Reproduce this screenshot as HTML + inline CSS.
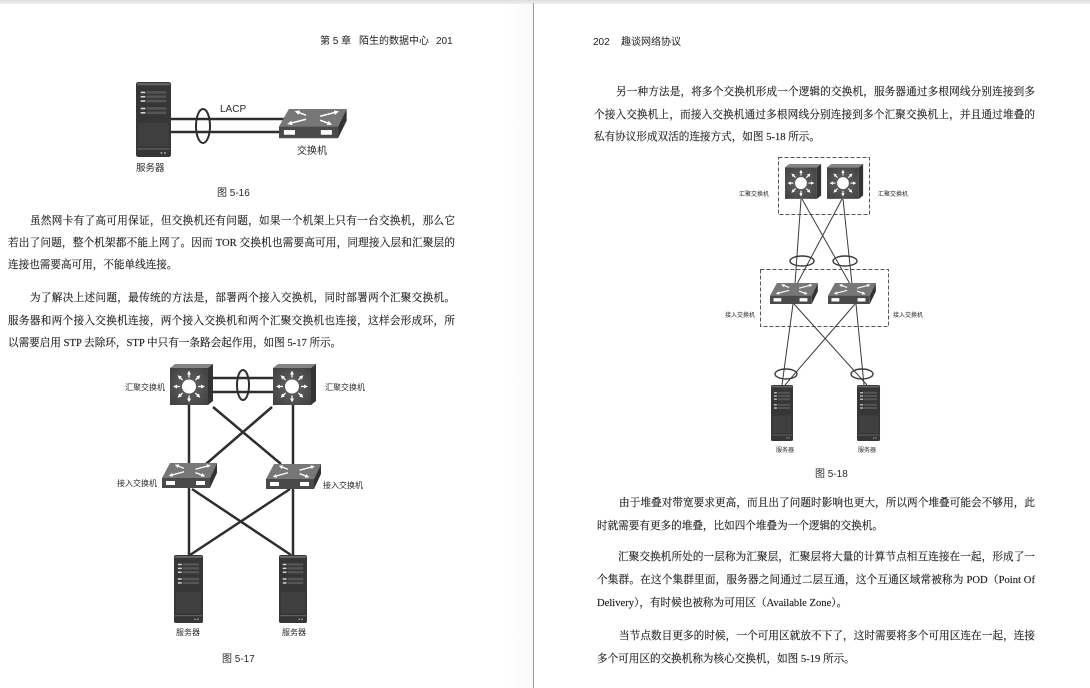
<!DOCTYPE html>
<html lang="zh">
<head>
<meta charset="utf-8">
<style>
  html,body{margin:0;padding:0;}
  body{width:1090px;height:688px;position:relative;overflow:hidden;background:#fff;}
  .strip{position:absolute;left:0;top:0;width:1090px;height:4px;background:linear-gradient(#dcdcdc,#f2f2f2);}
  .div{position:absolute;left:533px;top:3px;width:1px;height:685px;background:#9a9a9a;}
  .shade{position:absolute;left:505px;top:4px;width:28px;height:684px;background:linear-gradient(90deg,rgba(0,0,0,0),rgba(0,0,0,0.025));}
  .h{position:absolute;font-family:"Liberation Sans","Noto Sans CJK SC",sans-serif;font-size:10px;line-height:12px;color:#222;white-space:nowrap;}
  .t{position:absolute;font-family:"Liberation Serif","Noto Serif CJK SC",serif;font-size:10.6px;line-height:14px;color:#1e1e1e;-webkit-text-stroke:0.15px #1e1e1e;}
  .j{text-align:justify;text-align-last:justify;}
  svg{position:absolute;left:0;top:0;}
  svg text{font-family:"Liberation Sans","Noto Sans CJK SC",sans-serif;fill:#2a2a2a;}
</style>
</head>
<body>
<div class="strip"></div>
<div class="shade"></div>
<div class="div"></div>

<!-- headers -->
<div class="h" style="left:320px;top:36px;">第 5 章</div>
<div class="h" style="left:359px;top:36px;">陌生的数据中心</div>
<div class="h" style="left:436px;top:36px;">201</div>
<div class="h" style="left:593px;top:37px;">202</div>
<div class="h" style="left:621px;top:37px;">趣谈网络协议</div>

<!-- left page text -->
<div class="t j" style="left:30px;top:215px;width:425px;">虽然网卡有了高可用保证，但交换机还有问题，如果一个机架上只有一台交换机，那么它</div>
<div class="t j" style="left:8px;top:237px;width:447px;">若出了问题，整个机架都不能上网了。因而 TOR 交换机也需要高可用，同理接入层和汇聚层的</div>
<div class="t" style="left:8px;top:259px;">连接也需要高可用，不能单线连接。</div>

<div class="t j" style="left:30px;top:292px;width:425px;">为了解决上述问题，最传统的方法是，部署两个接入交换机，同时部署两个汇聚交换机。</div>
<div class="t j" style="left:8px;top:315px;width:447px;">服务器和两个接入交换机连接，两个接入交换机和两个汇聚交换机也连接，这样会形成环，所</div>
<div class="t" style="left:8px;top:337px;">以需要启用 STP 去除环，STP 中只有一条路会起作用，如图 5-17 所示。</div>

<!-- right page text -->
<div class="t j" style="left:616px;top:86px;width:419px;">另一种方法是，将多个交换机形成一个逻辑的交换机，服务器通过多根网线分别连接到多</div>
<div class="t j" style="left:594px;top:109px;width:441px;">个接入交换机上，而接入交换机通过多根网线分别连接到多个汇聚交换机上，并且通过堆叠的</div>
<div class="t" style="left:594px;top:131px;">私有协议形成双活的连接方式，如图 5-18 所示。</div>

<div class="t j" style="left:619px;top:497px;width:416px;">由于堆叠对带宽要求更高，而且出了问题时影响也更大，所以两个堆叠可能会不够用，此</div>
<div class="t" style="left:597px;top:520px;">时就需要有更多的堆叠，比如四个堆叠为一个逻辑的交换机。</div>

<div class="t j" style="left:618px;top:551px;width:417px;">汇聚交换机所处的一层称为汇聚层，汇聚层将大量的计算节点相互连接在一起，形成了一</div>
<div class="t j" style="left:597px;top:574px;width:438px;">个集群。在这个集群里面，服务器之间通过二层互通，这个互通区域常被称为 POD（Point Of</div>
<div class="t" style="left:597px;top:597px;">Delivery），有时候也被称为可用区（Available Zone）。</div>

<div class="t j" style="left:619px;top:630px;width:416px;">当节点数目更多的时候，一个可用区就放不下了，这时需要将多个可用区连在一起，连接</div>
<div class="t" style="left:597px;top:653px;">多个可用区的交换机称为核心交换机，如图 5-19 所示。</div>

<svg width="1090" height="688" viewBox="0 0 1090 688" xmlns="http://www.w3.org/2000/svg">
  <defs>
    <marker id="m" viewBox="0 0 10 10" refX="4" refY="5" markerWidth="4" markerHeight="4" orient="auto" markerUnits="userSpaceOnUse">
      <path d="M0,0L10,5L0,10z" fill="#fff"/>
    </marker>
    <radialGradient id="fg" cx="50%" cy="50%" r="70%">
      <stop offset="0" stop-color="#646464"/>
      <stop offset="1" stop-color="#404040"/>
    </radialGradient>
    <g id="agg">
      <polygon points="0,4 5,0 43,0 38,4" fill="#858585"/>
      <polygon points="38,4 43,0 43,37 38,41" fill="#333"/>
      <rect x="0" y="4" width="38" height="37" fill="url(#fg)"/>
      <circle cx="19" cy="22.5" r="7" fill="#fff"/>
      <g stroke="#fff" stroke-width="1.3" marker-end="url(#m)">
        <line x1="28" y1="22.5" x2="32.5" y2="22.5"/>
        <line x1="10" y1="22.5" x2="5.5" y2="22.5"/>
        <line x1="19" y1="31.5" x2="19" y2="36"/>
        <line x1="19" y1="13.5" x2="19" y2="9"/>
        <line x1="25.4" y1="28.9" x2="28.6" y2="32.1"/>
        <line x1="12.6" y1="28.9" x2="9.4" y2="32.1"/>
        <line x1="25.4" y1="16.1" x2="28.6" y2="12.9"/>
        <line x1="12.6" y1="16.1" x2="9.4" y2="12.9"/>
      </g>
    </g>
    <g id="acc">
      <polygon points="0,15 8,0 55,0 48,15" fill="#777"/>
      <polygon points="48,15 55,0 55,10 48,25" fill="#333"/>
      <rect x="0" y="15" width="48" height="10" fill="#4a4a4a"/>
      <rect x="4" y="18" width="9" height="4" fill="#fff"/>
      <rect x="34" y="18" width="9" height="4" fill="#fff"/>
      <g stroke="#fff" stroke-width="1.3" marker-end="url(#m)">
        <line x1="22" y1="8.8" x2="9" y2="12.3"/>
        <line x1="33.5" y1="6.2" x2="46.5" y2="2.7"/>
        <line x1="22" y1="5.3" x2="15" y2="2.6"/>
        <line x1="33.5" y1="9.6" x2="41" y2="12.5"/>
      </g>
    </g>
    <g id="srv">
      <rect x="0" y="0" width="30" height="70" rx="2" fill="#363636"/>
      <rect x="1" y="1" width="28" height="2" fill="#666"/>
      <rect x="2" y="38" width="26" height="22" fill="#3f3f3f"/>
      <g fill="#d8d8d8">
        <rect x="4" y="9" width="4" height="1.5"/>
        <rect x="4" y="13" width="4" height="1.5"/>
        <rect x="4" y="17" width="4" height="1.5"/>
        <rect x="4" y="24" width="4" height="1.5"/>
        <rect x="4" y="28" width="4" height="1.5"/>
      </g>
      <g fill="#555">
        <rect x="9" y="8.5" width="17" height="2.5"/>
        <rect x="9" y="12.5" width="17" height="2.5"/>
        <rect x="9" y="16.5" width="17" height="2.5"/>
        <rect x="9" y="23.5" width="17" height="2.5"/>
        <rect x="9" y="27.5" width="17" height="2.5"/>
      </g>
      <rect x="1" y="62" width="28" height="1" fill="#6a6a6a"/>
      <rect x="21" y="65.5" width="1.5" height="1.5" fill="#aaa"/>
      <rect x="24" y="65.5" width="1.5" height="1.5" fill="#aaa"/>
    </g>
  </defs>

  <!-- ===== Fig 5-16 ===== -->
  <use href="#srv" transform="translate(136,82) scale(1.167,1.071)"/>
  <g stroke="#2e2e2e" stroke-width="2.5">
    <line x1="171" y1="119" x2="286" y2="119"/>
    <line x1="171" y1="132" x2="281" y2="132"/>
  </g>
  <ellipse cx="203" cy="126" rx="7" ry="17" fill="none" stroke="#2e2e2e" stroke-width="2"/>
  <use href="#acc" transform="translate(279,109) scale(1.23,1.17)"/>
  <text x="220" y="112" font-size="10">LACP</text>
  <text x="297" y="154" font-size="10">交换机</text>
  <text x="136" y="171" font-size="9.5">服务器</text>
  <text x="217" y="196" font-size="10">图 5-16</text>

  <!-- ===== Fig 5-17 ===== -->
  <g stroke="#2e2e2e" stroke-width="2.5">
    <line x1="213" y1="378" x2="273" y2="378"/>
    <line x1="213" y1="392" x2="273" y2="392"/>
    <line x1="189" y1="405" x2="189" y2="464"/>
    <line x1="293" y1="405" x2="293" y2="465"/>
    <line x1="213" y1="407" x2="281" y2="464"/>
    <line x1="272" y1="407" x2="206" y2="464"/>
    <line x1="189" y1="488" x2="189" y2="555"/>
    <line x1="293" y1="489" x2="293" y2="555"/>
    <line x1="192" y1="489" x2="291" y2="555"/>
    <line x1="290" y1="489" x2="190" y2="555"/>
  </g>
  <ellipse cx="243" cy="385" rx="6" ry="15" fill="none" stroke="#2e2e2e" stroke-width="2"/>
  <use href="#agg" transform="translate(170,364)"/>
  <use href="#agg" transform="translate(273,364)"/>
  <use href="#acc" transform="translate(162,463)"/>
  <use href="#acc" transform="translate(266,464)"/>
  <use href="#srv" transform="translate(174,555) scale(0.967,0.971)"/>
  <use href="#srv" transform="translate(279,555) scale(0.933,0.971)"/>
  <text x="125" y="390" font-size="8">汇聚交换机</text>
  <text x="325" y="390" font-size="8">汇聚交换机</text>
  <text x="117" y="486" font-size="8">接入交换机</text>
  <text x="323" y="488" font-size="8">接入交换机</text>
  <text x="176" y="635" font-size="8">服务器</text>
  <text x="282" y="635" font-size="8">服务器</text>
  <text x="222" y="662" font-size="10">图 5-17</text>

  <!-- ===== Fig 5-18 ===== -->
  <g fill="none" stroke="#555" stroke-width="1" stroke-dasharray="4 2">
    <rect x="778.5" y="157.5" width="91" height="57"/>
    <rect x="760.5" y="269.5" width="128" height="57"/>
  </g>
  <g stroke="#3a3a3a" stroke-width="1">
    <line x1="801" y1="199" x2="795" y2="284"/>
    <line x1="802" y1="199" x2="850" y2="284"/>
    <line x1="842" y1="199" x2="797" y2="284"/>
    <line x1="843" y1="199" x2="852" y2="284"/>
    <line x1="793" y1="304" x2="782" y2="385"/>
    <line x1="794" y1="304" x2="867" y2="385"/>
    <line x1="855" y1="304" x2="785" y2="385"/>
    <line x1="856" y1="304" x2="864" y2="385"/>
  </g>
  <g fill="none" stroke="#3a3a3a" stroke-width="1.4">
    <ellipse cx="802" cy="261" rx="12" ry="5"/>
    <ellipse cx="845" cy="261" rx="12" ry="5"/>
    <ellipse cx="786" cy="374" rx="11" ry="5"/>
    <ellipse cx="862" cy="374" rx="11" ry="5"/>
  </g>
  <use href="#agg" transform="translate(785,164) scale(0.84,0.85)"/>
  <use href="#agg" transform="translate(827,164) scale(0.84,0.85)"/>
  <use href="#acc" transform="translate(770,283) scale(0.87,0.84)"/>
  <use href="#acc" transform="translate(828,283) scale(0.87,0.84)"/>
  <use href="#srv" transform="translate(771,385) scale(0.733,0.8)"/>
  <use href="#srv" transform="translate(857,385) scale(0.767,0.8)"/>
  <text x="739" y="196" font-size="6">汇聚交换机</text>
  <text x="878" y="196" font-size="6">汇聚交换机</text>
  <text x="725" y="317" font-size="6">接入交换机</text>
  <text x="893" y="317" font-size="6">接入交换机</text>
  <text x="776" y="452" font-size="6">服务器</text>
  <text x="858" y="452" font-size="6">服务器</text>
  <text x="815" y="477" font-size="10">图 5-18</text>
</svg>
</body>
</html>
